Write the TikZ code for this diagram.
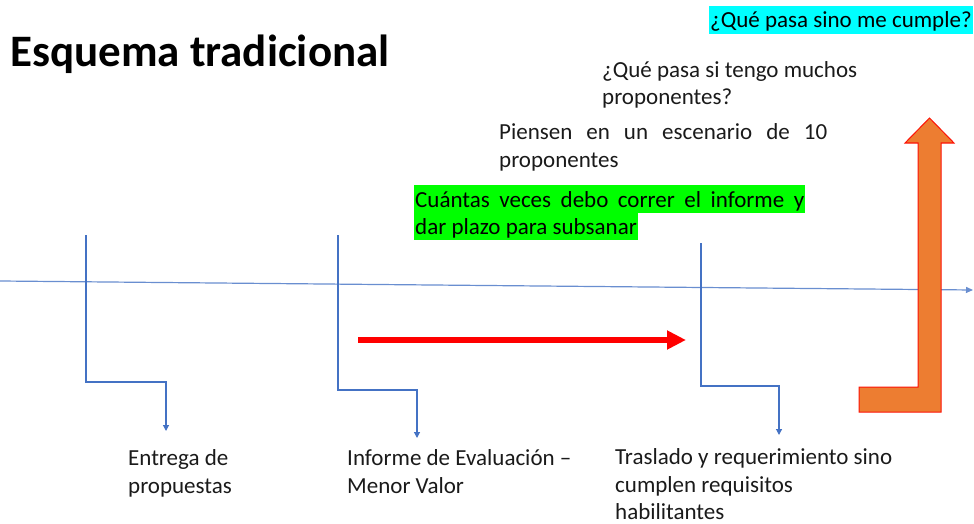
\documentclass[tikz,border=0pt]{standalone}
\usepackage{fontspec}
\setmainfont{Carlito}
\usetikzlibrary{arrows.meta}
\definecolor{tlblue}{HTML}{4472C4}
\definecolor{orangefill}{HTML}{ED7D31}
\definecolor{hlgreen}{HTML}{00FF00}
\definecolor{hlcyan}{HTML}{00FFFF}
\definecolor{txt}{HTML}{1A1A1A}
\begin{document}
\begin{tikzpicture}[x=1pt,y=-1pt,
  body/.style={font=\fontsize{23}{27.3}\selectfont, text=txt, inner sep=0pt, anchor=base west, align=left},
  hl/.style={font=\fontsize{23}{27}\selectfont, text=black, inner ysep=0pt, inner xsep=1pt, anchor=base west, text height=22pt, text depth=6pt},
  timeline/.style={draw=tlblue!80, line width=1.2pt, -{Triangle[length=7pt,width=6pt]}},
  bluecon/.style={draw=tlblue, line width=1.2pt, -{Triangle[length=6pt,width=6pt]}},
  redarrow/.style={draw=red, line width=6pt, -{Triangle[length=19pt,width=18pt]}},
  bigarrow/.style={fill=orangefill, draw=red!85!orangefill, line width=1pt}
]
\useasboundingbox (0,0) rectangle (974,524);

% title
\node[font=\fontsize{45}{50}\selectfont\bfseries, inner sep=0pt, anchor=base west] (title) at (10,67) {Esquema tradicional};

% timeline
\coordinate (tl0) at (0,281);
\coordinate (tl1) at (973,290);
\draw[timeline] (tl0) -- (tl1);

% connectors
\coordinate (c1top) at (86,235);
\coordinate (c1bend) at (86,382);
\coordinate (c1end) at (166,431);
\draw[bluecon] (c1top) -- (c1bend) -| (c1end);

\coordinate (c2top) at (338,235);
\coordinate (c2bend) at (338,390);
\coordinate (c2end) at (417,438);
\draw[bluecon] (c2top) -- (c2bend) -| (c2end);

\coordinate (c3top) at (701,243);
\coordinate (c3bend) at (701,386);
\coordinate (c3end) at (779,435);
\draw[bluecon] (c3top) -- (c3bend) -| (c3end);

% red arrow
\coordinate (r0) at (358,340);
\coordinate (r1) at (686,340);
\draw[redarrow] (r0) -- (r1);

% orange arrow
\draw[bigarrow] (859,387) -- (918,387) -- (918,143) -- (905,143) -- (929.5,118) -- (954,143) -- (941,143) -- (941,412) -- (859,412) -- cycle;

% top texts (multi-line nodes anchored at the baseline of their last line)
\node[hl, fill=hlcyan] (q1) at (709,28) {¿Qué pasa sino me cumple?};
\node[body] (q2) at (602,105) {¿Qué pasa si tengo muchos\\proponentes?};
\node[body] (q3) at (499,167) {\makebox[328pt][s]{Piensen en un escenario de 10}\\proponentes};
\node[hl, fill=hlgreen] (g1) at (414,207) {\makebox[389pt][s]{Cuántas veces debo correr el informe y}};
\node[hl, fill=hlgreen] (g2) at (414,234) {dar plazo para subsanar};

% bottom labels
\node[body] (l1) at (128,493) {Entrega de\\propuestas};
\node[body] (l2) at (347,493) {Informe de Evaluación –\\Menor Valor};
\node[body] (l3) at (615,519.5) {Traslado y requerimiento sino\\cumplen requisitos\\habilitantes};
\end{tikzpicture}
\end{document}
